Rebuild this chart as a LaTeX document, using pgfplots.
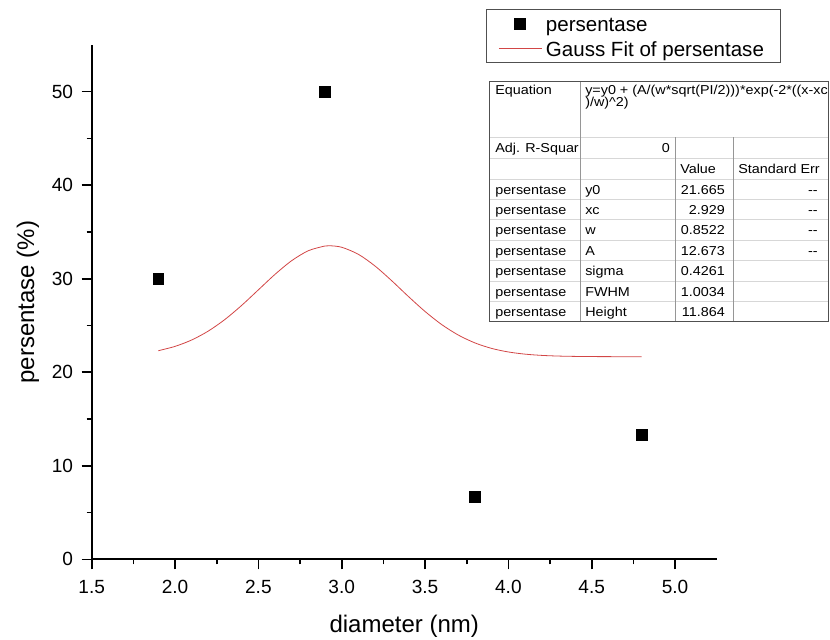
\documentclass[border=0pt]{standalone}
\usepackage{fontspec}
\setmainfont{Liberation Sans}
\newfontfamily\tabfont[FakeStretch=1.11]{Liberation Sans}
\usepackage{pgfplots}
\pgfplotsset{compat=1.18}
\definecolor{fitred}{RGB}{210,70,70}
\definecolor{tabouter}{RGB}{80,80,80}
\definecolor{tabvert}{RGB}{150,150,150}
\definecolor{tabhor}{RGB}{215,215,215}
\begin{document}
\begin{tikzpicture}
\useasboundingbox (0pt,0pt) rectangle (622.5pt,-479.25pt);
\begin{axis}[
  at={(68.78pt,-419.48pt)}, anchor=south west,
  scale only axis, width=468.75pt, height=385.8pt,
  xmin=1.5, xmax=5.25, ymin=0, ymax=55,
  axis x line=bottom, axis y line=left,
  axis line style={-, line width=1.3pt, black},
  xtick={1.5,2,2.5,3,3.5,4,4.5,5}, minor x tick num=1,
  ytick={0,10,20,30,40,50}, minor y tick num=1,
  tick align=outside,
  major tick length=7.5pt, minor tick length=3.75pt,
  tick style={line width=1.2pt, black},
  /pgf/number format/assume math mode=true,
  xticklabel style={/pgf/number format/fixed, /pgf/number format/fixed zerofill, /pgf/number format/precision=1, yshift=-4.5pt},
  yticklabel style={xshift=-3pt},
  ticklabel style={font=\fontsize{14.3pt}{16pt}\selectfont},
  xlabel={diameter (nm)}, ylabel={persentase (\%)},
  every axis x label/.style={at={(axis description cs:0.5,-0.131)}, anchor=center, font=\fontsize{18pt}{20pt}\selectfont},
  every axis y label/.style={at={(axis description cs:-0.102,0.5)}, anchor=center, rotate=90, font=\fontsize{18pt}{20pt}\selectfont},
  legend image code/.code={\draw[mark repeat=2,mark phase=2,#1] plot coordinates {(0pt,0pt) (16pt,0pt) (32pt,0pt)};},
  legend style={at={(axis description cs:0.631,1.0698)}, anchor=north west,
    draw=tabouter, line width=0.6pt, fill=white,
    inner xsep=9pt, inner ysep=1.5pt,
    font=\fontsize{15.4pt}{17pt}\selectfont,
    nodes={inner xsep=3pt, inner ysep=1.5pt, text height=13.5pt, text depth=2pt},
    cells={anchor=west}},
  clip=false,
]
\addplot[only marks, mark=square*, mark size=4.1pt, draw=black, fill=black, line width=0.6pt] coordinates {
  (1.9,30) (2.9,50) (3.8,6.667) (4.8,13.333)
};
\addlegendentry{persentase}
\addplot[draw=fitred, line width=0.6pt, mark=none, smooth] coordinates {
  (1.9,22.307) (2.0,22.767) (2.1,23.453) (2.2,24.410) (2.3,25.656)
  (2.4,27.155) (2.5,28.812) (2.6,30.471) (2.7,31.933) (2.8,32.997)
  (2.9,33.502) (2.929,33.529) (3.0,33.365) (3.1,32.611) (3.2,31.357)
  (3.3,29.787) (3.4,28.105) (3.5,26.500) (3.6,25.099) (3.7,23.974)
  (3.8,23.134) (3.9,22.549) (4.0,22.169) (4.1,21.937) (4.2,21.804)
  (4.3,21.732) (4.4,21.696) (4.5,21.678) (4.6,21.670) (4.7,21.667)
  (4.8,21.665)
};
\addlegendentry{Gauss Fit of persentase}
\end{axis}
\begin{scope}[x=0.75pt, y=-0.75pt]
  \fill[white] (489,81) rectangle (828,321.7);
  \foreach \yy in {137.3,158.3,179,199.4,219.8,240.2,260.6,281,301.4}
    \draw[tabhor, line width=0.75pt] (489,\yy) -- (828,\yy);
  \draw[tabvert, line width=0.75pt] (580,81) -- (580,321.7);
  \draw[tabvert, line width=0.75pt] (675,137.3) -- (675,321.7);
  \draw[tabvert, line width=0.75pt] (733,137.3) -- (733,321.7);
  \draw[tabouter, line width=0.75pt] (489,81) rectangle (828,321.7);
  \tikzset{tt/.style={inner sep=0pt, font=\tabfont\fontsize{9.7pt}{9.7pt}\selectfont}}
  \node[tt, anchor=base west] at (495,94) {Equation};
  \node[tt, anchor=base west] at (585,94) {y=y0 + (A/(w*sqrt(PI/2)))*exp(-2*((x-xc};
  \node[tt, anchor=base west] at (585,106.5) {)/w)\textasciicircum 2)};
  \node[tt, anchor=base west] at (495,152) {Adj. R-Squar};
  \node[tt, anchor=base east] at (670,152) {0};
  \node[tt, anchor=base west] at (680,173.5) {Value};
  \node[tt, anchor=base west] at (738,173.5) {Standard Err};
  \foreach \p/\v/\e [count=\i from 0] in {y0/21.665/-{}-, xc/2.929/-{}-, w/0.8522/-{}-, A/12.673/-{}-, sigma/0.4261/, FWHM/1.0034/, Height/11.864/} {
    \pgfmathsetmacro{\by}{179+20.4*\i+15}
    \node[tt, anchor=base west] at (495,\by) {persentase};
    \node[tt, anchor=base west] at (585,\by) {\p};
    \node[tt, anchor=base east] at (725,\by) {\v};
    \node[tt, anchor=base east] at (818,\by) {\e};
  }
\end{scope}
\end{tikzpicture}
\end{document}
